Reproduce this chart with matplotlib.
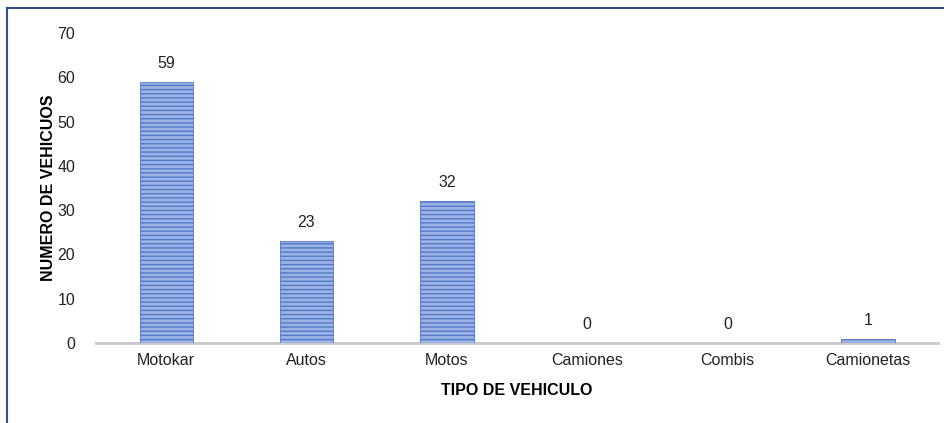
import matplotlib.pyplot as plt
from matplotlib.lines import Line2D

# --- data ---
tipos = ["Motokar", "Autos", "Motos", "Camiones", "Combis", "Camionetas"]
cantidades = [59, 23, 32, 0, 0, 1]
y_ticks = [0, 10, 20, 30, 40, 50, 60, 70]

plt.rcParams['font.family'] = ['Liberation Sans', 'DejaVu Sans']
plt.rcParams['hatch.color'] = '#5677c6'
plt.rcParams['hatch.linewidth'] = 1.0

fig = plt.figure(figsize=(9.45, 4.23), dpi=100)
ax = fig.add_axes([0.1016, 0.189, 0.8910, 0.733])

x = range(len(tipos))
bars = ax.bar(x, cantidades, width=0.38, color='#9ab3e6', edgecolor='#5677c6',
              linewidth=0.6, hatch='----', zorder=2)

# value labels above each bar
for b, v in zip(bars, cantidades):
    ax.annotate(str(v), (b.get_x() + b.get_width() / 2, v),
                xytext=(0, 8), textcoords='offset points',
                ha='center', va='bottom', fontsize=11.5, color='#222222')

ax.set_xlim(-0.5, len(tipos) - 0.5)
ax.set_ylim(0, 70)
ax.set_yticks(y_ticks)
ax.set_xticks(list(x))
ax.set_xticklabels(tipos)
ax.tick_params(axis='both', length=0, labelsize=11.5, colors='#222222')
ax.tick_params(axis='y', pad=15)
ax.tick_params(axis='x', pad=7)

for s in ['top', 'right', 'left']:
    ax.spines[s].set_visible(False)
ax.spines['bottom'].set_color('#c8c8c8')
ax.spines['bottom'].set_linewidth(2)
ax.spines['bottom'].set_zorder(1)

ax.set_xlabel("TIPO DE VEHICULO", fontsize=11.5, fontweight='bold', labelpad=11)
ax.set_ylabel("NUMERO DE VEHICUOS", fontsize=11.5, fontweight='bold', labelpad=1)

# outer frame (top and left edges)
fig.add_artist(Line2D([7.5 / 945, 1.0], [1 - 8.5 / 423, 1 - 8.5 / 423],
                      transform=fig.transFigure, color='#2f4f8f', linewidth=1.5))
fig.add_artist(Line2D([7.5 / 945, 7.5 / 945], [0, 1 - 8.5 / 423],
                      transform=fig.transFigure, color='#2f4f8f', linewidth=1.5))

fig.savefig("out.png", dpi=100)
